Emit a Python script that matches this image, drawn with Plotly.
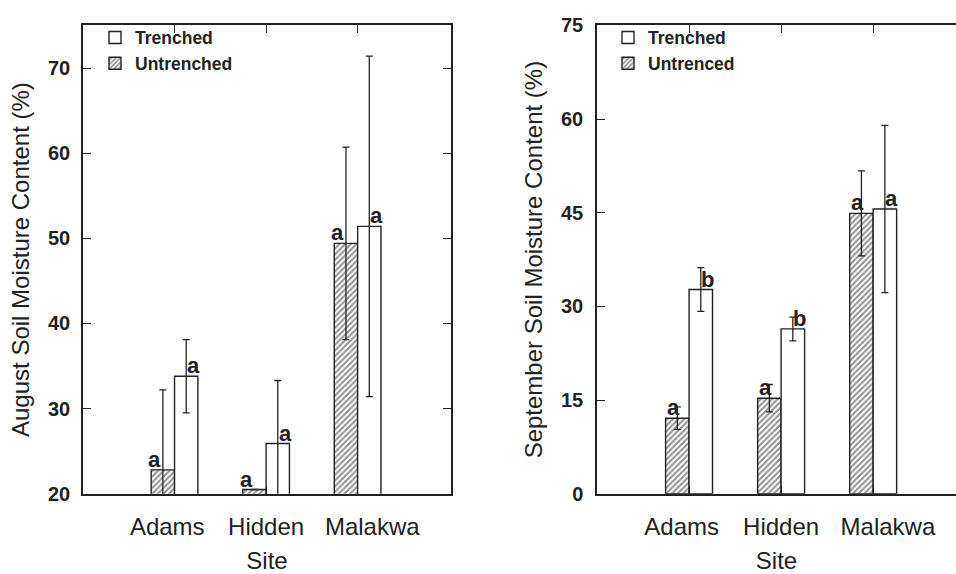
import plotly.graph_objects as go

sites = ["Adams", "Hidden", "Malakwa"]

# August (left panel)
aug_untrenched = [22.8, 20.5, 49.4]
aug_untrenched_err = [9.4, 0.0, 11.3]
aug_trenched = [33.8, 25.9, 51.4]
aug_trenched_err = [4.3, 7.4, 20.0]
aug_untrenched_letters = ["a", "a", "a"]
aug_trenched_letters = ["a", "a", "a"]

# September (right panel)
sep_untrenched = [12.1, 15.3, 44.9]
sep_untrenched_err = [1.8, 2.2, 6.8]
sep_trenched = [32.7, 26.4, 45.6]
sep_trenched_err = [3.5, 1.9, 13.4]
sep_untrenched_letters = ["a", "a", "a"]
sep_trenched_letters = ["b", "b", "a"]

aug_ticks = [20, 30, 40, 50, 60, 70]
sep_ticks = [0, 15, 30, 45, 60, 75]
site_label_pos = [-0.08, 1.0, 2.16]

FONT = "Arial, Liberation Sans, sans-serif"
INK = "#222222"

fig = go.Figure()

def hatched_bar(x, y, err, name, xa, ya, legend):
    return go.Bar(
        x=x, y=y, name=name, xaxis=xa, yaxis=ya, legend=legend,
        marker=dict(color="white", line=dict(color=INK, width=1.4),
                    pattern=dict(shape="/", fgcolor=INK, bgcolor="white",
                                 size=4, solidity=0.5, fillmode="overlay")),
        error_y=dict(type="data", array=err, visible=True, color=INK,
                     thickness=1.3, width=3.5),
    )

def open_bar(x, y, err, name, xa, ya, legend):
    return go.Bar(
        x=x, y=y, name=name, xaxis=xa, yaxis=ya, legend=legend,
        marker=dict(color="white", line=dict(color=INK, width=1.4)),
        error_y=dict(type="data", array=err, visible=True, color=INK,
                     thickness=1.3, width=3.5),
    )

fig.add_trace(hatched_bar(sites, aug_untrenched, aug_untrenched_err, "Untrenched", "x", "y", "legend"))
fig.add_trace(open_bar(sites, aug_trenched, aug_trenched_err, "Trenched", "x", "y", "legend"))
fig.add_trace(hatched_bar(sites, sep_untrenched, sep_untrenched_err, "Untrenced", "x2", "y2", "legend2"))
fig.add_trace(open_bar(sites, sep_trenched, sep_trenched_err, "Trenched", "x2", "y2", "legend2"))
# empty helper traces so the site-label axes are drawn
fig.add_trace(go.Scatter(x=[], y=[], xaxis="x3", yaxis="y", showlegend=False, hoverinfo="skip"))
fig.add_trace(go.Scatter(x=[], y=[], xaxis="x4", yaxis="y2", showlegend=False, hoverinfo="skip"))

annotations = []
def letters(xref, yref, vals, labs, shift):
    for s, v, l in zip(sites, vals, labs):
        annotations.append(dict(
            x=s, y=v, xref=xref, yref=yref, text=l, showarrow=False,
            xanchor="center", yanchor="bottom", xshift=shift, yshift=-4,
            font=dict(family=FONT, size=22, color=INK, weight="bold")))

letters("x", "y", aug_untrenched, aug_untrenched_letters, -20)
letters("x", "y", aug_trenched, aug_trenched_letters, 19)
letters("x2", "y2", sep_untrenched, sep_untrenched_letters, -16)
letters("x2", "y2", sep_trenched, sep_trenched_letters, 18)

xcommon = dict(
    type="category", categoryorder="array", categoryarray=sites,
    showline=True, linecolor=INK, linewidth=1.5, mirror="ticks",
    ticks="inside", ticklen=8, tickcolor=INK, tickwidth=1.3,
    showticklabels=False, showgrid=False, zeroline=False,
)
xlabel_common = dict(
    type="linear", tickvals=site_label_pos, ticktext=sites, ticks="",
    showline=False, showgrid=False, zeroline=False,
    tickfont=dict(family=FONT, size=24, color=INK), ticklabelstandoff=16,
    title=dict(text="Site", font=dict(family=FONT, size=24, color=INK), standoff=16),
)
ycommon = dict(
    showline=True, linecolor=INK, linewidth=1.5,
    ticks="inside", ticklen=8, tickcolor=INK, tickwidth=1.3,
    tickfont=dict(family=FONT, size=20, color=INK, weight="bold"),
    showgrid=False, zeroline=False,
)

fig.update_layout(
    width=956, height=574,
    margin=dict(l=0, r=0, t=0, b=0),
    paper_bgcolor="white", plot_bgcolor="white",
    barmode="group", bargap=0.49, bargroupgap=0.0,
    font=dict(family=FONT, color=INK),
    xaxis=dict(domain=[83/956, 451/956], range=[-1.0, 3.02], anchor="y", **xcommon),
    xaxis2=dict(domain=[597/956, 1.0], range=[-1.0, 2.9], anchor="y2", **xcommon),
    xaxis3=dict(overlaying="x", anchor="y", side="bottom", range=[-1.0, 3.02], **xlabel_common),
    xaxis4=dict(overlaying="x2", anchor="y2", side="bottom", range=[-1.0, 2.9], **xlabel_common),
    yaxis=dict(domain=[1-502/574, 1-15/574], range=[20, 75], anchor="x",
               tickvals=aug_ticks, mirror="ticks", ticklabelstandoff=7,
               title=dict(text="August Soil Moisture Content (%)",
                          font=dict(family=FONT, size=24, color=INK), standoff=12),
               **ycommon),
    yaxis2=dict(domain=[1-502/574, 1-15/574], range=[0, 75], anchor="x2",
                tickvals=sep_ticks, mirror=False, ticklabelstandoff=8,
                title=dict(text="September Soil Moisture Content (%)",
                           font=dict(family=FONT, size=24, color=INK), standoff=12),
                **ycommon),
    legend=dict(x=95/956, y=1-9/574, xanchor="left", yanchor="top",
                traceorder="reversed", bgcolor="rgba(0,0,0,0)",
                font=dict(family=FONT, size=17.5, color=INK, weight="bold"),
                itemclick=False),
    legend2=dict(x=608/956, y=1-9/574, xanchor="left", yanchor="top",
                 traceorder="reversed", bgcolor="rgba(0,0,0,0)",
                 font=dict(family=FONT, size=17.5, color=INK, weight="bold"),
                 itemclick=False),
    annotations=annotations,
    showlegend=True,
)

fig.write_html("out.html")
